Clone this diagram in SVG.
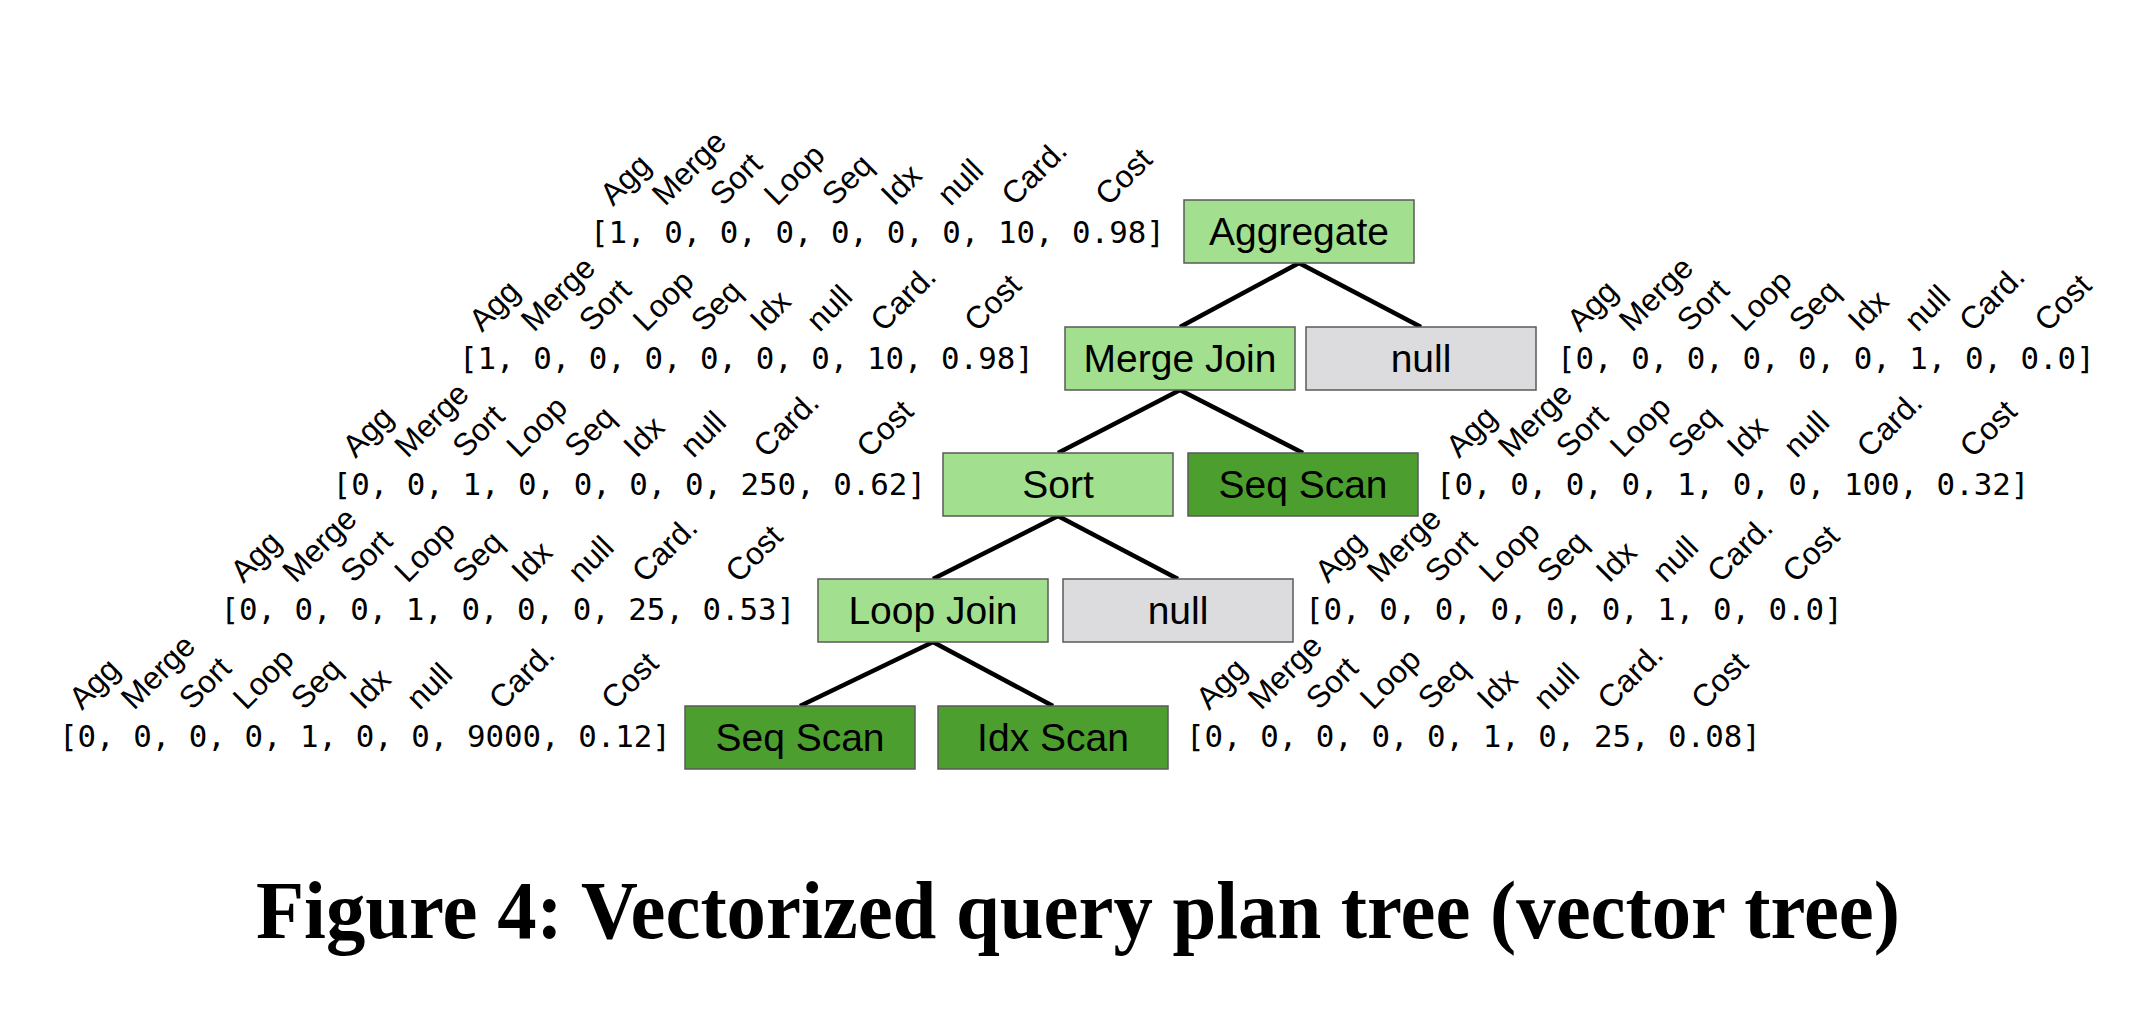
<svg xmlns="http://www.w3.org/2000/svg" width="2146" height="1032" viewBox="0 0 2146 1032">
<style>
.box{stroke:#5a5a5a;stroke-width:1.5}
.lg{fill:#a2e08f}
.dg{fill:#4c9f2f}
.gy{fill:#dcdcdf}
.lbl{font-family:"Liberation Sans",Arial,sans-serif;font-size:39px;fill:#000;text-anchor:middle}
.num{font-family:"DejaVu Sans Mono",monospace;font-size:30.8px;fill:#000}
.hdr{font-family:"Liberation Sans",Arial,sans-serif;font-size:31.5px;fill:#000}
.edge{stroke:#000;stroke-width:4.5;fill:none}
.title{font-family:"Liberation Serif","Times New Roman",serif;font-weight:bold;font-size:83px;fill:#000;text-anchor:middle}
</style>
<defs>
<g id="h7">
<text class="hdr" transform="translate(23,-36) rotate(-45)">Agg</text>
<text class="hdr" transform="translate(75,-36) rotate(-45)">Merge</text>
<text class="hdr" transform="translate(133,-36) rotate(-45)">Sort</text>
<text class="hdr" transform="translate(187,-36) rotate(-45)">Loop</text>
<text class="hdr" transform="translate(245,-36) rotate(-45)">Seq</text>
<text class="hdr" transform="translate(304,-36) rotate(-45)">Idx</text>
<text class="hdr" transform="translate(360.6,-36) rotate(-45)">null</text>
</g>
<g id="hA">
<use href="#h7"/>
<text class="hdr" transform="translate(424.5,-36) rotate(-45)">Card.</text>
<text class="hdr" transform="translate(518.2,-36) rotate(-45)">Cost</text>
</g>
<g id="hB">
<use href="#h7"/>
<text class="hdr" transform="translate(415.2,-36) rotate(-45)">Card.</text>
<text class="hdr" transform="translate(490.4,-36) rotate(-45)">Cost</text>
</g>
<g id="hC">
<use href="#h7"/>
<text class="hdr" transform="translate(433.8,-36) rotate(-45)">Card.</text>
<text class="hdr" transform="translate(536.8,-36) rotate(-45)">Cost</text>
</g>
<g id="hD">
<use href="#h7"/>
<text class="hdr" transform="translate(443,-36) rotate(-45)">Card.</text>
<text class="hdr" transform="translate(555.3,-36) rotate(-45)">Cost</text>
</g>
</defs>

<g id="connectors">
<line class="edge" x1="1299" y1="263" x2="1180" y2="327"/>
<line class="edge" x1="1299" y1="263" x2="1421" y2="327"/>
<line class="edge" x1="1180" y1="390" x2="1058" y2="453"/>
<line class="edge" x1="1180" y1="390" x2="1303" y2="453"/>
<line class="edge" x1="1058" y1="516" x2="933" y2="579"/>
<line class="edge" x1="1058" y1="516" x2="1178" y2="579"/>
<line class="edge" x1="933" y1="642" x2="800" y2="706"/>
<line class="edge" x1="933" y1="642" x2="1053" y2="706"/>
</g>

<g id="node-aggregate">
<rect class="box lg" x="1184" y="200" width="230" height="63"/>
<text class="lbl" x="1299" y="245">Aggregate</text>
<g transform="translate(590,243)">
<text class="num">[1, 0, 0, 0, 0, 0, 0, 10, 0.98]</text>
<use href="#hA"/>
</g>
</g>

<g id="node-mergejoin">
<rect class="box lg" x="1065" y="327" width="230" height="63"/>
<text class="lbl" x="1180" y="372">Merge Join</text>
<g transform="translate(459,369)">
<text class="num">[1, 0, 0, 0, 0, 0, 0, 10, 0.98]</text>
<use href="#hA"/>
</g>
</g>

<g id="node-null1">
<rect class="box gy" x="1306" y="327" width="230" height="63"/>
<text class="lbl" x="1421" y="372">null</text>
<g transform="translate(1557,369)">
<text class="num">[0, 0, 0, 0, 0, 0, 1, 0, 0.0]</text>
<use href="#hB"/>
</g>
</g>

<g id="node-sort">
<rect class="box lg" x="943" y="453" width="230" height="63"/>
<text class="lbl" x="1058" y="498">Sort</text>
<g transform="translate(332.6,495)">
<text class="num">[0, 0, 1, 0, 0, 0, 0, 250, 0.62]</text>
<use href="#hC"/>
</g>
</g>

<g id="node-seqscan1">
<rect class="box dg" x="1188" y="453" width="230" height="63"/>
<text class="lbl" x="1303" y="498">Seq Scan</text>
<g transform="translate(1436,495)">
<text class="num">[0, 0, 0, 0, 1, 0, 0, 100, 0.32]</text>
<use href="#hC"/>
</g>
</g>

<g id="node-loopjoin">
<rect class="box lg" x="818" y="579" width="230" height="63"/>
<text class="lbl" x="933" y="624">Loop Join</text>
<g transform="translate(220.4,620)">
<text class="num">[0, 0, 0, 1, 0, 0, 0, 25, 0.53]</text>
<use href="#hA"/>
</g>
</g>

<g id="node-null2">
<rect class="box gy" x="1063" y="579" width="230" height="63"/>
<text class="lbl" x="1178" y="624">null</text>
<g transform="translate(1305,620)">
<text class="num">[0, 0, 0, 0, 0, 0, 1, 0, 0.0]</text>
<use href="#hB"/>
</g>
</g>

<g id="node-seqscan2">
<rect class="box dg" x="685" y="706" width="230" height="63"/>
<text class="lbl" x="800" y="751">Seq Scan</text>
<g transform="translate(59,747)">
<text class="num">[0, 0, 0, 0, 1, 0, 0, 9000, 0.12]</text>
<use href="#hD"/>
</g>
</g>

<g id="node-idxscan">
<rect class="box dg" x="938" y="706" width="230" height="63"/>
<text class="lbl" x="1053" y="751">Idx Scan</text>
<g transform="translate(1186,747)">
<text class="num">[0, 0, 0, 0, 0, 1, 0, 25, 0.08]</text>
<use href="#hA"/>
</g>
</g>

<text class="title" x="1078" y="938" textLength="1644" lengthAdjust="spacingAndGlyphs">Figure 4: Vectorized query plan tree (vector tree)</text>
</svg>
